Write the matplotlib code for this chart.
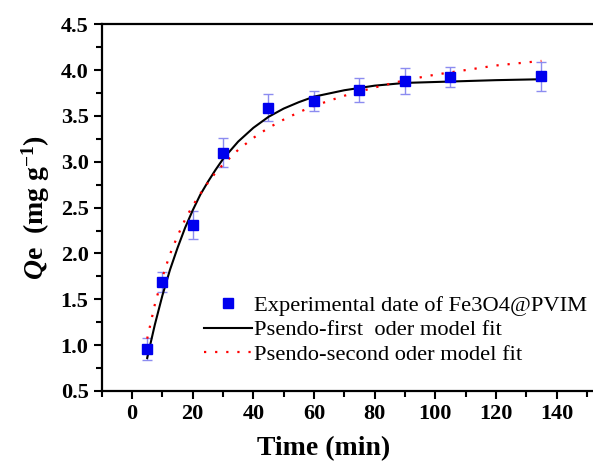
import numpy as np
from matplotlib import pyplot as plt
from matplotlib.ticker import MultipleLocator

# experimental points
time_exp = [5, 10, 20, 30, 45, 60, 75, 90, 105, 135]
qe_exp = [0.96, 1.69, 2.31, 3.10, 3.59, 3.66, 3.78, 3.88, 3.92, 3.93]
qe_err = [0.12, 0.11, 0.15, 0.16, 0.15, 0.11, 0.13, 0.14, 0.11, 0.16]

# curves
time_fit = [5, 7.5, 10, 12.5, 15, 17.5, 20, 22.5, 25, 27.5, 30, 35, 40, 45, 50, 55, 60,
            70, 80, 90, 100, 110, 120, 135]
qe_first = [0.86, 1.22, 1.54, 1.82, 2.06, 2.28, 2.47, 2.64, 2.78, 2.91, 3.03, 3.22, 3.37,
            3.49, 3.58, 3.65, 3.71, 3.78, 3.83, 3.86, 3.87, 3.88, 3.89, 3.90]
qe_second = [1.07, 1.44, 1.74, 1.99, 2.19, 2.37, 2.52, 2.65, 2.77, 2.88, 2.97, 3.13, 3.26,
             3.37, 3.46, 3.54, 3.61, 3.72, 3.81, 3.89, 3.95, 4.00, 4.05, 4.10]

plt.rcParams['font.family'] = 'Liberation Serif'
plt.rcParams['mathtext.fontset'] = 'custom'
plt.rcParams['mathtext.rm'] = 'Liberation Serif:bold'
plt.rcParams['mathtext.it'] = 'Liberation Serif:italic:bold'
plt.rcParams['mathtext.bf'] = 'Liberation Serif:bold'

fig = plt.figure(figsize=(5.93, 4.66), dpi=100)
ax = fig.add_axes([0.1715, 0.161, 0.8285, 0.787])

ax.errorbar(time_exp, qe_exp, yerr=qe_err, fmt='none', ecolor='#8c8cf0',
            elinewidth=1, capsize=3.5, capthick=1, zorder=2)
ax.plot(time_fit, qe_first, color='black', lw=1.5, zorder=3,
        label='Psendo-first  oder model fit')
ax.plot(time_fit, qe_second, color='red', lw=1.6, linestyle=(0, (1, 4)), zorder=3,
        label='Psendo-second oder model fit')
ax.plot(time_exp, qe_exp, 's', color='#0000ee', markersize=6.5, linestyle='none', zorder=4,
        label='Experimental date of Fe3O4@PVIM')

ax.set_xlim(-10, 152)
ax.set_ylim(0.5, 4.5)
ax.xaxis.set_major_locator(MultipleLocator(20))
ax.xaxis.set_minor_locator(MultipleLocator(10))
ax.yaxis.set_major_locator(MultipleLocator(0.5))
ax.yaxis.set_minor_locator(MultipleLocator(0.25))
ax.tick_params(which='major', direction='out', length=5.5, width=1.5, labelsize=16, pad=4)
ax.tick_params(which='minor', direction='out', length=4, width=1.5)
for lab in ax.get_xticklabels() + ax.get_yticklabels():
    lab.set_fontweight('bold')

ax.spines['right'].set_visible(False)
for s in ['left', 'bottom', 'top']:
    ax.spines[s].set_linewidth(1.6)

ax.set_xlabel('Time (min)', fontsize=20, fontweight='bold')
ax.xaxis.set_label_coords(0.452, -0.122, transform=ax.transAxes)
ax.xaxis.label.set_verticalalignment('top')
ax.set_ylabel(r'$Q\mathrm{e}$  (mg g$^{-1}$)', fontsize=20, fontweight='bold', labelpad=6)

handles, labels = ax.get_legend_handles_labels()
order = [2, 0, 1]
ax.legend([handles[i] for i in order], [labels[i] for i in order], frameon=False,
          fontsize=16.2, loc='lower left', bbox_to_anchor=(0.209, 0.072),
          handlelength=2.1, handletextpad=0.1, labelspacing=0.15, borderaxespad=0,
          borderpad=0)

fig.savefig('out.png', dpi=100)
